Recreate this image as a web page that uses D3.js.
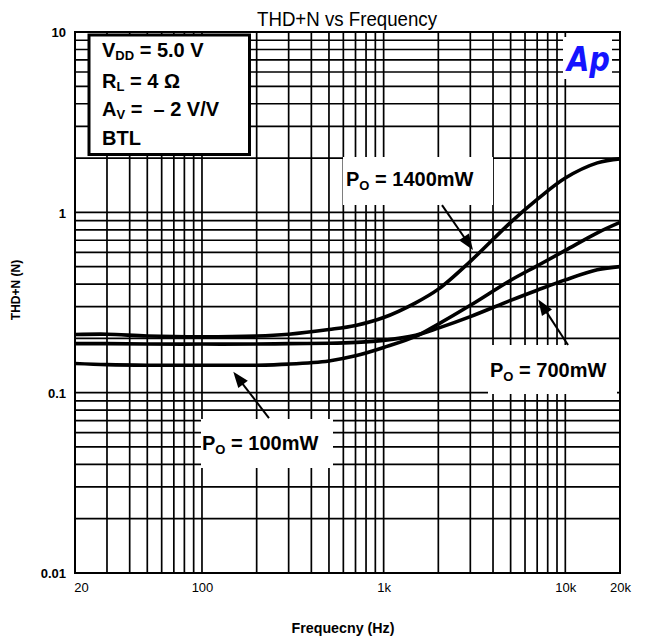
<!DOCTYPE html>
<html>
<head>
<meta charset="utf-8">
<script src="https://cdn.jsdelivr.net/npm/d3@7"></script>
<style>
  body { margin: 0; background: #fff; }
  svg { display: block; font-family: "Liberation Sans", Arial, Helvetica, sans-serif; }
  text { white-space: pre; }
</style>
</head>
<body>
<svg id="chart" width="645" height="642"></svg>
<script>
// Measured THD+N (ratio) versus frequency (Hz) for three output powers
const freqs   = [20, 30, 50, 100, 200, 300, 500, 700, 1000, 1500, 2000, 3000, 5000, 7000, 10000, 15000, 20000];
const thd1400 = [0.210, 0.211, 0.206, 0.204, 0.206, 0.211, 0.224, 0.236, 0.261, 0.315, 0.375, 0.535, 0.880, 1.180, 1.550, 1.880, 1.980];
const thd700  = [0.187, 0.187, 0.186, 0.186, 0.186, 0.187, 0.188, 0.190, 0.195, 0.208, 0.228, 0.264, 0.325, 0.370, 0.422, 0.480, 0.500];
const thd100  = [0.145, 0.143, 0.142, 0.142, 0.142, 0.144, 0.150, 0.160, 0.178, 0.205, 0.240, 0.305, 0.420, 0.505, 0.615, 0.770, 0.880];

const xTickValues = [20, 100, 1000, 10000, 20000];
const xTickLabels = ["20", "100", "1k", "10k", "20k"];
const yTickValues = [0.01, 0.1, 1, 10];
const yTickLabels = ["0.01", "0.1", "1", "10"];

const seriesNames = ["1400mW", "700mW", "100mW"];

// Arrow anchors in data units: [tail freq, tail THD, tip freq, tip THD]
const arrow1400 = [2095, 1.097, 3104, 0.618];
const arrow700  = [10350, 0.1837, 7096, 0.329];
const arrow100  = [233.8, 0.0723, 148.7, 0.1306];

const L = 75, R = 620, T = 32, B = 573;

const svg = d3.select("#chart");
const x = d3.scaleLog().domain([20, 20000]).range([L, R]);
const y = d3.scaleLog().domain([0.01, 10]).range([B, T]);

// Title
svg.append("text")
  .attr("x", 257).attr("y", 26)
  .attr("font-size", 20)
  .attr("textLength", 180).attr("lengthAdjust", "spacingAndGlyphs")
  .attr("fill", "#000")
  .text("THD+N vs Frequency");

// Log grid: 1..9 multiples of each decade
const xGrid = [];
[10, 100, 1000, 10000].forEach(d => { for (let k = 1; k <= 9; k++) { const v = k * d; if (v > 20 && v < 20000) xGrid.push(v); } });
const yGrid = [];
[0.01, 0.1, 1].forEach(d => { for (let k = 1; k <= 9; k++) { const v = k * d; if (v > 0.01 && v < 10) yGrid.push(v); } });

const grid = svg.append("g").attr("stroke", "#000").attr("stroke-width", 1.7);
grid.selectAll(".vx").data(xGrid).join("line")
  .attr("x1", d => x(d)).attr("x2", d => x(d)).attr("y1", T).attr("y2", B);
grid.selectAll(".hy").data(yGrid).join("line")
  .attr("y1", d => y(d)).attr("y2", d => y(d)).attr("x1", L).attr("x2", R);

svg.append("rect")
  .attr("x", L).attr("y", T).attr("width", R - L).attr("height", B - T)
  .attr("fill", "none").attr("stroke", "#000").attr("stroke-width", 2);

// White panels behind the annotations
const panels = [
  [343, 157, 150, 48],
  [488, 345, 129, 49],
  [201, 419, 132, 49],
  [563, 37, 49, 42]
];
svg.append("g").selectAll("rect").data(panels).join("rect")
  .attr("x", d => d[0]).attr("y", d => d[1]).attr("width", d => d[2]).attr("height", d => d[3])
  .attr("fill", "#fff");

// Test conditions box
svg.append("rect")
  .attr("x", 89).attr("y", 35).attr("width", 160.5).attr("height", 119.5)
  .attr("fill", "#fff").attr("stroke", "#000").attr("stroke-width", 3);

const condLines = [
  [["V", false], ["DD", true], [" = 5.0 V", false]],
  [["R", false], ["L", true], [" = 4 \u03A9", false]],
  [["A", false], ["V", true], [" =  \u2013 2 V/V", false]],
  [["BTL", false]]
];
const condBase = [60, 90.7, 119, 147.7];
condLines.forEach((parts, i) => {
  const t = svg.append("text").attr("x", 102).attr("y", condBase[i])
    .attr("font-size", 20).attr("font-weight", "bold");
  parts.forEach(([s, sub]) => {
    t.append("tspan")
      .attr("font-size", sub ? 13 : 20)
      .attr("dy", sub ? 3 : (t.selectAll("tspan").size() > 0 ? -3 : 0))
      .text(s);
  });
});

// Curves
const line = d3.line()
  .x(d => x(d[0])).y(d => y(d[1]))
  .curve(d3.curveCatmullRom.alpha(0.5));
const series = [thd1400, thd700, thd100];
svg.append("defs").append("clipPath").attr("id", "plotClip")
  .append("rect").attr("x", L).attr("y", T).attr("width", R - L).attr("height", B - T);
svg.append("g").attr("clip-path", "url(#plotClip)")
  .selectAll("path").data(series).join("path")
  .attr("d", s => line(freqs.map((f, i) => [f, s[i]])))
  .attr("fill", "none").attr("stroke", "#000").attr("stroke-width", 3.6)
  .attr("stroke-linejoin", "round");

// Arrows
function drawArrow(a) {
  const x0 = x(a[0]), y0 = y(a[1]), x1 = x(a[2]), y1 = y(a[3]);
  const dx = x1 - x0, dy = y1 - y0, len = Math.hypot(dx, dy);
  const ux = dx / len, uy = dy / len;
  const hl = 16, hw = 6;
  const bx = x1 - ux * hl, by = y1 - uy * hl;
  svg.append("line")
    .attr("x1", x0).attr("y1", y0).attr("x2", bx + ux * 2).attr("y2", by + uy * 2)
    .attr("stroke", "#000").attr("stroke-width", 2);
  svg.append("path")
    .attr("d", `M${x1},${y1}L${bx - uy * hw},${by + ux * hw}L${bx + uy * hw},${by - ux * hw}Z`)
    .attr("fill", "#000");
}
[arrow1400, arrow700, arrow100].forEach(drawArrow);

// Power labels
const powerLabelPos = [[346, 186], [490, 377], [202, 450]];
seriesNames.forEach((name, i) => {
  const t = svg.append("text").attr("x", powerLabelPos[i][0]).attr("y", powerLabelPos[i][1])
    .attr("font-size", 20).attr("font-weight", "bold");
  t.append("tspan").text("P");
  t.append("tspan").attr("font-size", 13).attr("dy", 3.5).text("O");
  t.append("tspan").attr("dy", -3.5).text(" = " + name);
});

// Logo
svg.append("text")
  .attr("x", 567).attr("y", 71)
  .attr("font-family", "DejaVu Sans, sans-serif")
  .attr("font-size", 34).attr("font-weight", "bold").attr("font-style", "italic")
  .attr("textLength", 43).attr("lengthAdjust", "spacingAndGlyphs")
  .attr("fill", "#1414ff")
  .text("Ap");

// Axes
const xAxis = d3.axisBottom(x).tickValues(xTickValues)
  .tickFormat((d, i) => xTickLabels[i]).tickSize(0).tickPadding(0);
const gx = svg.append("g").attr("transform", `translate(0,${B})`).call(xAxis);
gx.select(".domain").remove();
gx.selectAll("text")
  .attr("y", 19).attr("dy", null)
  .attr("font-size", 13).attr("font-family", "Liberation Sans, Arial, sans-serif")
  .attr("fill", "#000")
  .attr("dx", (d, i) => i === 0 ? 6 : 0);

const yAxis = d3.axisLeft(y).tickValues(yTickValues)
  .tickFormat((d, i) => yTickLabels[i]).tickSize(0).tickPadding(0);
const gy = svg.append("g").attr("transform", `translate(${L},0)`).call(yAxis);
gy.select(".domain").remove();
gy.selectAll("text")
  .attr("x", -9).attr("dy", "0.36em")
  .attr("font-size", 13).attr("font-weight", "bold")
  .attr("font-family", "Liberation Sans, Arial, sans-serif")
  .attr("fill", "#000");

// Axis titles
svg.append("text")
  .attr("x", 343).attr("y", 633).attr("text-anchor", "middle")
  .attr("font-size", 15).attr("font-weight", "bold")
  .attr("textLength", 103).attr("lengthAdjust", "spacingAndGlyphs")
  .text("Frequecny (Hz)");

svg.append("text")
  .attr("transform", "translate(20,290) rotate(-90)")
  .attr("text-anchor", "middle")
  .attr("font-size", 12).attr("font-weight", "bold")
  .text("THD+N (N)");
</script>
</body>
</html>
